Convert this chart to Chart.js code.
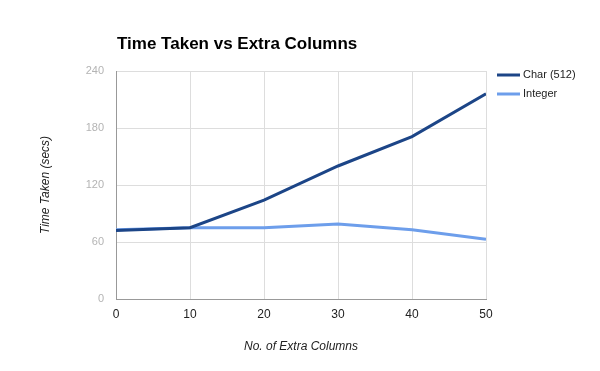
<!DOCTYPE html>
<html>
<head>
<meta charset="utf-8">
<script src="https://cdn.jsdelivr.net/npm/chart.js@4/dist/chart.umd.min.js"></script>
<style>
  html, body { margin: 0; padding: 0; background: #fff; }
  #wrap { width: 600px; height: 371px; }
</style>
</head>
<body>
<div id="wrap"><canvas id="myChart" width="600" height="371"></canvas></div>
<script>
const extraColumns = [0, 10, 20, 30, 40, 50];
const charTimes = [72, 75, 104, 140, 171, 216];
const integerTimes = [73, 75, 75, 79, 73, 63];
const seriesNames = ['Char (512)', 'Integer'];
const chartTitle = 'Time Taken vs Extra Columns';

// title and legend drawn at fixed spots like the original
const overlay = {
    id: 'overlay',
    afterDraw(chart) {
        const ctx = chart.ctx;
        ctx.save();
        ctx.fillStyle = '#000';
        ctx.font = 'bold 17px "Liberation Sans", Arial, sans-serif';
        ctx.textBaseline = 'middle';
        ctx.textAlign = 'left';
        ctx.fillText(chartTitle, chart.chartArea.left + 1, 44);

        chart.data.datasets.forEach((ds, i) => {
            const y = 75 + i * 19;
            ctx.strokeStyle = ds.borderColor;
            ctx.lineWidth = 3;
            ctx.beginPath();
            ctx.moveTo(497, y);
            ctx.lineTo(520, y);
            ctx.stroke();
            ctx.fillStyle = '#222';
            ctx.font = '11px "Liberation Sans", Arial, sans-serif';
            ctx.fillText(ds.label, 523, y);
        });
        ctx.restore();
    }
};

const ctx = document.getElementById('myChart').getContext('2d');
const chart = new Chart(ctx, {
    type: 'line',
    data: {
        datasets: [{
            label: seriesNames[0],
            data: extraColumns.map((x, i) => ({ x: x, y: charTimes[i] })),
            borderColor: '#1c4587',
            borderWidth: 3,
            pointRadius: 0,
            tension: 0
        }, {
            label: seriesNames[1],
            data: extraColumns.map((x, i) => ({ x: x, y: integerTimes[i] })),
            borderColor: '#6d9eeb',
            borderWidth: 3,
            pointRadius: 0,
            tension: 0
        }]
    },
    options: {
        responsive: false,
        animation: false,
        layout: { padding: { top: 71, right: 114, bottom: 0, left: 0 } },
        plugins: {
            legend: { display: false },
            title: { display: false },
            tooltip: { enabled: false }
        },
        scales: {
            x: {
                type: 'linear',
                min: 0,
                max: 50,
                ticks: {
                    stepSize: 10,
                    color: '#222',
                    padding: 8,
                    font: { family: '"Liberation Sans", Arial, sans-serif', size: 12 }
                },
                grid: { color: '#dddddd', drawTicks: false },
                border: { color: '#999999' },
                title: {
                    display: true,
                    text: 'No. of Extra Columns',
                    color: '#222',
                    padding: { top: 0, bottom: 17 },
                    font: { family: '"Liberation Sans", Arial, sans-serif', size: 12, style: 'italic' }
                },
                afterFit(scale) { scale.height = 72; }
            },
            y: {
                min: 0,
                max: 240,
                ticks: {
                    stepSize: 60,
                    color: '#b4b4b4',
                    padding: 12,
                    font: { family: '"Liberation Sans", Arial, sans-serif', size: 11 }
                },
                grid: { color: '#dddddd', drawTicks: false },
                border: { color: '#999999' },
                title: {
                    display: true,
                    text: 'Time Taken (secs)',
                    color: '#222',
                    padding: { top: 38, bottom: 0 },
                    font: { family: '"Liberation Sans", Arial, sans-serif', size: 12, style: 'italic' }
                },
                afterFit(scale) { scale.width = 116; }
            }
        }
    },
    plugins: [overlay]
});
</script>
</body>
</html>
